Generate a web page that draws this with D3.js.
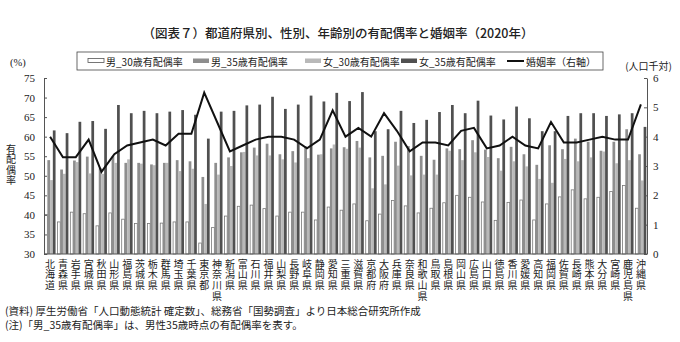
<!DOCTYPE html>
<html><head><meta charset="utf-8">
<script src="https://cdn.jsdelivr.net/npm/d3@7"></script>
<style>
body{margin:0;background:#fff;}
svg{display:block;}
.vt{writing-mode:vertical-rl;text-orientation:upright;}
</style></head><body>
<svg id="chart" width="680" height="342"></svg>
<script>
// 都道府県（表示順）
const prefectures = ["北海道","青森県","岩手県","宮城県","秋田県","山形県","福島県","茨城県","栃木県","群馬県",
  "埼玉県","千葉県","東京都","神奈川県","新潟県","富山県","石川県","福井県","山梨県","長野県",
  "岐阜県","静岡県","愛知県","三重県","滋賀県","京都府","大阪府","兵庫県","奈良県","和歌山県",
  "鳥取県","島根県","岡山県","広島県","山口県","徳島県","香川県","愛媛県","高知県","福岡県",
  "佐賀県","長崎県","熊本県","大分県","宮崎県","鹿児島県","沖縄県"];

// 有配偶率（%）
const male30 = [40.1,38.2,40.7,40.3,37.2,40.5,38.9,37.8,37.8,37.9,
  38.2,38.2,32.8,36.8,39.7,42.2,42.5,41.6,39.7,40.7,
  40.7,38.7,42.0,41.2,42.8,38.5,40.2,43.7,42.3,40.5,
  41.7,43.1,45.0,44.5,43.3,38.6,43.2,43.8,38.7,42.8,
  44.6,46.4,44.1,44.5,46.0,47.5,41.7];
const male35 = [54.0,51.6,53.9,54.9,52.0,55.0,53.3,53.3,52.9,53.3,
  54.0,53.7,49.7,53.3,54.7,56.0,57.2,58.2,55.5,56.3,
  57.5,55.4,57.0,57.3,58.9,54.7,55.1,58.7,57.6,55.1,
  54.1,57.0,56.8,59.1,56.7,54.5,57.4,55.5,52.8,57.8,
  56.8,59.5,58.7,56.4,58.7,61.9,55.5];
const female30 = [48.9,50.5,53.5,50.6,50.5,53.3,54.2,53.1,52.7,53.3,
  51.2,51.8,42.8,50.3,52.5,56.1,55.2,55.2,54.2,53.4,
  54.5,55.5,58.0,56.9,57.2,46.8,47.8,52.6,50.1,50.3,
  50.3,56.4,54.0,56.0,54.8,51.3,53.7,52.4,49.2,48.2,
  54.3,53.7,54.7,56.2,53.2,54.0,48.8];
const female35 = [61.6,60.9,63.8,64.0,62.0,68.1,66.0,66.6,66.0,66.4,
  66.8,65.6,59.5,66.4,66.6,68.0,68.2,70.2,67.1,68.2,
  70.5,69.0,71.2,69.1,71.4,61.4,61.9,66.6,63.5,64.3,
  66.3,68.1,66.0,69.2,65.4,64.4,67.7,64.7,61.4,61.4,
  65.3,66.0,66.0,65.3,65.7,66.0,62.5];

// 婚姻率（人口千対）
const marriageRate = [4.0,3.3,3.3,3.9,2.8,3.4,3.7,3.8,3.9,3.7,
  4.1,4.1,5.5,4.5,3.5,3.7,3.9,4.0,4.0,3.9,
  3.6,3.9,4.9,4.0,4.3,4.0,4.8,4.2,3.5,3.8,
  3.8,3.7,4.2,4.3,3.6,3.7,4.0,3.7,3.6,4.5,
  3.8,3.8,3.9,4.0,3.9,3.9,5.1];

const leftTicks = [30,35,40,45,50,55,60,65,70,75];
const rightTicks = [0,1,2,3,4,5,6];

const seriesNames = ["男_30歳有配偶率","男_35歳有配偶率","女_30歳有配偶率","女_35歳有配偶率"];
const lineName = "婚姻率（右軸）";
const seriesColors = ["#ffffff","#8e8e8e","#b9b9b9","#505050"];

const titleText = "（図表７）都道府県別、性別、年齢別の有配偶率と婚姻率（2020年）";
const notes = ["(資料) 厚生労働省「人口動態統計 確定数」、総務省「国勢調査」より日本総合研究所作成",
               "(注)「男_35歳有配偶率」は、男性35歳時点の有配偶率を表す。"];

const serif = "'Liberation Serif','DejaVu Serif','Noto Sans CJK JP',serif";
const cjk = "'Noto Sans CJK JP','Noto Sans CJK SC',sans-serif";

const svg = d3.select("#chart");
const plotL = 44, plotR = 647, plotT = 78, plotB = 254;

const x = d3.scaleBand().domain(prefectures).range([plotL, plotR]).paddingInner(0.15).paddingOuter(0.05);
const xs = d3.scaleBand().domain(d3.range(4)).range([0, x.bandwidth()]);
const y = d3.scaleLinear().domain([30, 75]).range([plotB, plotT]);
const yr = d3.scaleLinear().domain([0, 6]).range([plotB, plotT]);

// タイトル
svg.append("text").attr("x", 338).attr("y", 38).attr("text-anchor", "middle")
  .style("font-family", cjk).style("font-size", "12.5px").style("font-weight", 500).attr("fill", "#222")
  .text(titleText);

// 棒グラフ
const series = [male30, male35, female30, female35];
const rows = prefectures.map((p, i) => ({p, vals: series.map(s => s[i])}));
const g = svg.append("g");
rows.forEach(r => {
  r.vals.forEach((v, k) => {
    g.append("rect")
      .attr("x", x(r.p) + xs(k))
      .attr("y", y(v))
      .attr("width", xs.bandwidth())
      .attr("height", y(30) - y(v))
      .attr("fill", seriesColors[k])
      .attr("stroke", k === 0 ? "#777" : "none")
      .attr("stroke-width", k === 0 ? 0.8 : 0);
  });
});

// 軸
const axL = d3.axisLeft(y).tickValues(leftTicks).tickSizeInner(-3).tickSizeOuter(0).tickPadding(9);
const axR = d3.axisRight(yr).tickValues(rightTicks).tickFormat(d3.format("d")).tickSizeInner(-3).tickSizeOuter(0).tickPadding(6);
const gl = svg.append("g").attr("transform", `translate(${plotL},0)`).call(axL);
const gr = svg.append("g").attr("transform", `translate(${plotR},0)`).call(axR);
[gl, gr].forEach(a => {
  a.selectAll("path,line").attr("stroke", "#555");
  a.selectAll("text").style("font-family", serif).style("font-size", "11px").attr("fill", "#222");
});
svg.append("line").attr("x1", plotL).attr("x2", plotR).attr("y1", plotB).attr("y2", plotB).attr("stroke", "#555");

// 婚姻率の折れ線
const line = d3.line().x((d, i) => x(prefectures[i]) + x.bandwidth() / 2).y(d => yr(d));
svg.append("path").datum(marriageRate).attr("d", line)
  .attr("fill", "none").attr("stroke", "#111").attr("stroke-width", 2).attr("stroke-linejoin", "miter");

// 都道府県名（縦書き）
svg.append("g").selectAll("text").data(prefectures).join("text")
  .attr("class", "vt")
  .attr("x", p => x(p) + x.bandwidth() / 2).attr("y", 259)
  .style("font-family", cjk).style("font-size", "10px").style("letter-spacing", "0.7px")
  .attr("fill", "#222").text(p => p);

// 軸の単位と見出し
svg.append("text").attr("x", 10).attr("y", 66).style("font-family", serif).style("font-size", "10.5px").attr("fill", "#222").text("(%)");
svg.append("text").attr("x", 672).attr("y", 70).attr("text-anchor", "end").style("font-family", cjk).style("font-size", "10px").attr("fill", "#222").text("(人口千対)");
svg.append("text").attr("class", "vt").attr("x", 11).attr("y", 144)
  .style("font-family", cjk).style("font-size", "10px").style("letter-spacing", "0.5px").attr("fill", "#222").text("有配偶率");

// 凡例
svg.append("rect").attr("x", 77).attr("y", 52).attr("width", 526).attr("height", 18)
  .attr("fill", "#fff").attr("stroke", "#444").attr("stroke-width", 0.8);
const legendX = [88, 193, 305, 401];
seriesNames.forEach((n, k) => {
  svg.append("rect").attr("x", legendX[k]).attr("y", 58.5).attr("width", 16).attr("height", k === 0 ? 4 : 4.5)
    .attr("fill", seriesColors[k]).attr("stroke", k === 0 ? "#555" : "none").attr("stroke-width", 0.8);
  svg.append("text").attr("x", legendX[k] + 18).attr("y", 61).attr("dominant-baseline", "central")
    .style("font-family", cjk).style("font-size", "10px").attr("fill", "#222").text(n);
});
svg.append("line").attr("x1", 507).attr("x2", 524).attr("y1", 61).attr("y2", 61).attr("stroke", "#111").attr("stroke-width", 2);
svg.append("text").attr("x", 526).attr("y", 61).attr("dominant-baseline", "central")
  .style("font-family", cjk).style("font-size", "10px").attr("fill", "#222").text(lineName);

// 注記
notes.forEach((t, k) => {
  svg.append("text").attr("x", 5).attr("y", 315 + k * 14)
    .style("font-family", cjk).style("font-size", "10.5px").attr("fill", "#222").text(t);
});
</script>
</body></html>
